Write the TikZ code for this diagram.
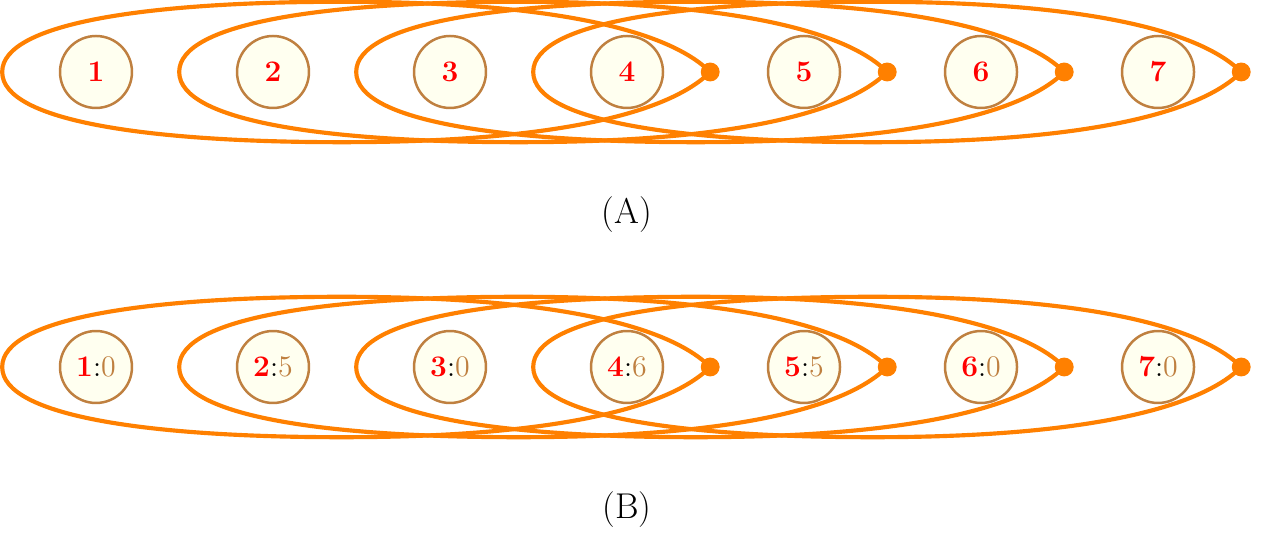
\documentclass[tikz,border=0pt]{standalone}
\usepackage{tikz}
\definecolor{winorange}{rgb}{1,0.5,0}
\definecolor{cellbrown}{rgb}{0.75,0.5,0.25}
\definecolor{cellfill}{rgb}{1,1,0.94}

\tikzset{
  cell/.style={circle, draw=cellbrown, fill=cellfill, line width=1.2pt, minimum size=1.22cm, inner sep=0pt, font=\Large},
  winline/.style={draw=winorange, line width=2pt},
  enddot/.style={circle, fill=winorange, inner sep=0pt, minimum size=0.32cm},
  caption/.style={font=\LARGE},
  % one window over four cells, starting at the cell it is placed on
  pics/slide/.style={code={
    \draw[winline] (-1.59,0) .. controls (-1.59,0.85) and (0.98,1.19) .. (4.17,1.19)
      .. controls (7.77,1.19) and (9.71,0.7) .. (10.41,0)
      .. controls (9.71,-0.7) and (7.77,-1.19) .. (4.17,-1.19)
      .. controls (0.98,-1.19) and (-1.59,-0.85) .. cycle;
    \node[enddot] (-end) at (10.41,0) {};
  }}
}

\begin{document}
\begin{tikzpicture}
\useasboundingbox (-1.627,-7.966) rectangle (19.864,1.220);

% (A)
\foreach \n in {1,...,7}
  \node[cell] (a\n) at ({3*(\n-1)},0) {\textcolor{red}{\textbf{\n}}};
\foreach \i in {1,...,4}
  \pic (wa\i) at (a\i) {slide};
\node[caption] (capA) at (9,-2.41) {(A)};

% (B)
\foreach \n/\v in {1/0,2/5,3/0,4/6,5/5,6/0,7/0}
  \node[cell] (b\n) at ({3*(\n-1)},-5) {\textcolor{red}{\textbf{\n}}:\textcolor{cellbrown}{\v}};
\foreach \i in {1,...,4}
  \pic (wb\i) at (b\i) {slide};
\node[caption] (capB) at (9,-7.41) {(B)};
\end{tikzpicture}
\end{document}
